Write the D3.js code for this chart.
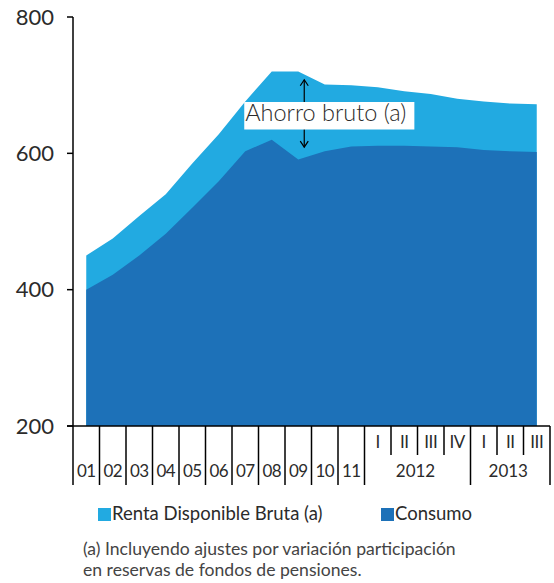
<!DOCTYPE html>
<html>
<head>
<meta charset="utf-8">
<script src="https://cdn.jsdelivr.net/npm/d3@7"></script>
<style>
    body { margin: 0; background: #fff; }
    svg text { font-family: Lato, "Open Sans", sans-serif; fill: #2b2b2b; }
</style>
</head>
<body>
<div id="graph-01"></div>
<script>
// data ------------------------------------------------------------------
var periods  = ['01','02','03','04','05','06','07','08','09','10','11',
                '2012-I','2012-II','2012-III','2012-IV','2013-I','2013-II','2013-III'];
var renta    = [450, 475, 508, 540, 585, 628, 676, 720, 720, 701, 700,
                697, 691, 687, 680, 676, 673, 672];
var consumo  = [400, 422, 450, 482, 520, 559, 603, 620, 591, 603, 610,
                611, 611, 610, 609, 605, 603, 602];
var yTicks   = [200, 400, 600, 800];
var years    = ['2012', '2013'];
var seriesNames = ['Renta Disponible Bruta (a)', 'Consumo'];
var annotation  = 'Ahorro bruto (a)';
var footnote    = ['(a) Incluyendo ajustes por variación participación',
                   'en reservas de fondos de pensiones.'];

(function(){
    var WIDTH  = 554,
        HEIGHT = 583;

    var LIGHT = '#22aae1',
        DARK  = '#1d71b8';

    var svg = d3.select('div#graph-01')
                .append('svg')
                .attr('width', WIDTH)
                .attr('height', HEIGHT);

    var x = d3.scaleBand().domain(periods).range([73, 550]);
    var y = d3.scaleLinear().domain([200, 800]).range([426, 17]);
    var bw = x.bandwidth();
    function cx(p){ return x(p) + bw / 2; }

    var rows = periods.map(function(p, i){
        return { p: p, renta: renta[i], consumo: consumo[i] };
    });

    // areas
    var areaRenta = d3.area()
        .x(function(d){ return cx(d.p) })
        .y0(y(200))
        .y1(function(d){ return y(d.renta) });
    var areaConsumo = d3.area()
        .x(function(d){ return cx(d.p) })
        .y0(y(200))
        .y1(function(d){ return y(d.consumo) });

    svg.append('path').datum(rows).attr('d', areaRenta).attr('fill', LIGHT);
    svg.append('path').datum(rows).attr('d', areaConsumo).attr('fill', DARK);

    // y axis
    var yAxis = svg.append('g').attr('class', 'y-axis');
    yAxis.append('line')
        .attr('x1', 73).attr('x2', 73)
        .attr('y1', y(800)).attr('y2', y(200))
        .attr('stroke', '#000').attr('stroke-width', 1.5);
    yAxis.selectAll('line.tick')
        .data(yTicks).enter().append('line')
        .attr('class', 'tick')
        .attr('x1', 67).attr('x2', 73)
        .attr('y1', function(d){ return y(d) })
        .attr('y2', function(d){ return y(d) })
        .attr('stroke', '#000').attr('stroke-width', 1.5);
    yAxis.selectAll('text')
        .data(yTicks).enter().append('text')
        .attr('x', 54)
        .attr('y', function(d){ return y(d) })
        .attr('dy', '0.35em')
        .attr('text-anchor', 'end')
        .style('font-size', '22px')
        .text(function(d){ return d });

    // x axis
    var xAxis = svg.append('g').attr('class', 'x-axis');
    xAxis.append('line')
        .attr('x1', 67).attr('x2', 550)
        .attr('y1', y(200)).attr('y2', y(200))
        .attr('stroke', '#000').attr('stroke-width', 1.5);

    function isQuarter(p){ return p.indexOf('-') > 0; }
    function isYearStart(p){ return !isQuarter(p) || /-I$/.test(p); }

    xAxis.selectAll('line.tick')
        .data(periods).enter().append('line')
        .attr('class', 'tick')
        .attr('x1', function(d){ return x(d) })
        .attr('x2', function(d){ return x(d) })
        .attr('y1', y(200))
        .attr('y2', function(d){ return isYearStart(d) ? 485 : 455 })
        .attr('stroke', '#000').attr('stroke-width', 1.5);
    xAxis.append('line')
        .attr('x1', 550).attr('x2', 550)
        .attr('y1', y(200)).attr('y2', 485)
        .attr('stroke', '#000').attr('stroke-width', 1.5);

    xAxis.selectAll('text.cat')
        .data(periods).enter().append('text')
        .attr('class', 'cat')
        .attr('x', function(d){ return cx(d) })
        .attr('y', function(d){ return isQuarter(d) ? 448 : 477 })
        .attr('text-anchor', 'middle')
        .style('font-size', '17px')
        .style('letter-spacing', '-0.5px')
        .text(function(d){ return isQuarter(d) ? d.split('-')[1] : d });

    xAxis.selectAll('text.year')
        .data(years).enter().append('text')
        .attr('class', 'year')
        .attr('x', function(yr){
            var ps = periods.filter(function(p){ return p.indexOf(yr) === 0 });
            return (x(ps[0]) + x(ps[ps.length - 1]) + bw) / 2 - 2;
        })
        .attr('y', 477)
        .attr('text-anchor', 'middle')
        .style('font-size', '17px')
        .text(function(d){ return d });

    // annotation
    var ann = svg.append('g').attr('class', 'annotation');
    var ax = cx('09') + 6;
    var top = y(708), bot = y(609);
    ann.append('line')
        .attr('x1', ax).attr('x2', ax).attr('y1', top).attr('y2', bot)
        .attr('stroke', '#000').attr('stroke-width', 1.2);
    ann.append('path')
        .attr('d', 'M' + (ax - 4) + ',' + (top + 6) + 'L' + ax + ',' + top + 'L' + (ax + 4) + ',' + (top + 6) +
                   'M' + (ax - 4) + ',' + (bot - 6) + 'L' + ax + ',' + bot + 'L' + (ax + 4) + ',' + (bot - 6))
        .attr('fill', 'none').attr('stroke', '#000').attr('stroke-width', 1.2);
    var box = ann.append('rect').attr('fill', '#fff');
    var label = ann.append('text')
        .attr('x', cx('07'))
        .attr('y', 121)
        .style('font-size', '23.5px')
        .style('font-weight', 300)
        .text(annotation);
    var bb = label.node().getBBox();
    box.attr('x', bb.x - 1).attr('y', 102)
       .attr('width', bb.width + 9).attr('height', 27.5);

    // legend
    var legend = svg.append('g').attr('class', 'legend');
    var legendX = [98, 381];
    legend.selectAll('rect')
        .data(seriesNames).enter().append('rect')
        .attr('x', function(d, i){ return legendX[i] })
        .attr('y', 508)
        .attr('width', 13).attr('height', 13)
        .attr('fill', function(d, i){ return i === 0 ? LIGHT : DARK });
    legend.selectAll('text')
        .data(seriesNames).enter().append('text')
        .attr('x', function(d, i){ return legendX[i] + 14 })
        .attr('y', 520)
        .style('font-size', '18.5px')
        .text(function(d){ return d });

    // footnote
    svg.append('g').attr('class', 'footnote')
        .selectAll('text')
        .data(footnote).enter().append('text')
        .attr('x', 83)
        .attr('y', function(d, i){ return 555 + i * 21 })
        .style('font-size', '17.6px')
        .style('fill', '#444')
        .text(function(d){ return d });
})();
</script>
</body>
</html>
